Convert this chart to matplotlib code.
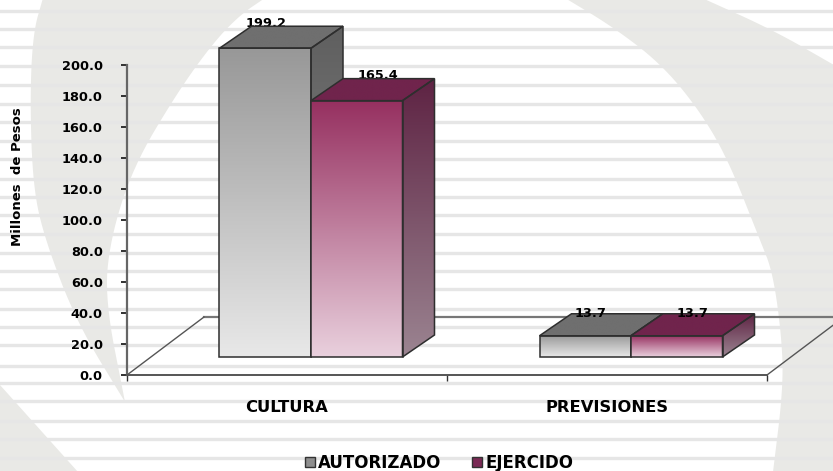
import numpy as np
import matplotlib
matplotlib.use("Agg")
import matplotlib.pyplot as plt
from matplotlib.colors import LinearSegmentedColormap
from matplotlib.patches import Polygon, Patch

W, H = 833, 471

categorias = ["CULTURA", "PREVISIONES"]
autorizado = [199.2, 13.7]
ejercido = [165.4, 13.7]
y_ticks = [0, 20, 40, 60, 80, 100, 120, 140, 160, 180, 200]
series_names = ["AUTORIZADO", "EJERCIDO"]

plt.rcParams["font.family"] = "DejaVu Sans"
plt.rcParams["font.weight"] = "bold"

fig = plt.figure(figsize=(W / 100, H / 100), dpi=100, facecolor="white")

# fondo: formas claras y franjas, en pixeles
bg = fig.add_axes([0, 0, 1, 1], zorder=0)
bg.set_xlim(0, W)
bg.set_ylim(H, 0)
bg.axis("off")


def suave(pts, n=3):
    pts = np.array(pts, dtype=float)
    for _ in range(n):
        q = pts[:-1] * 0.75 + pts[1:] * 0.25
        r = pts[:-1] * 0.25 + pts[1:] * 0.75
        mid = np.empty((len(q) * 2, 2))
        mid[0::2] = q
        mid[1::2] = r
        pts = np.vstack([pts[0], mid, pts[-1]])
    return pts


FORMA = "#e9e9e6"
izq = suave([(43, -2), (33, 33), (30, 100), (33, 187), (45, 240), (77, 323), (125, 402)])
der = suave([(125, 402), (105, 300), (110, 240), (133, 167), (177, 93), (213, 43), (240, 15), (265, -2)])
bg.add_patch(Polygon(np.vstack([izq, der]), fc=FORMA, ec="none"))
bg.add_patch(Polygon([(0, 385), (78, 472), (0, 472)], fc=FORMA, ec="none"))
borde1 = suave([(565, -2), (613, 27), (660, 63), (697, 107), (727, 157), (760, 240),
                (773, 273), (782, 340), (783, 390), (773, 472)])
borde2 = suave([(702, -2), (773, 30), (834, 65)])
bg.add_patch(Polygon(np.vstack([borde1, [(834, 472)], borde2[::-1]]), fc=FORMA, ec="none"))

franjas = [11, 29, 47, 66, 85, 103.7, 122, 141, 159, 179, 197, 215, 234, 253, 271, 289,
           309, 327, 345, 366, 383, 401, 421, 439, 458]
for y in franjas:
    bg.axhline(y, color="#e6e6e6", lw=2.4)

# ejes: 0 en y=375, 200 en y=65, categorias de x=127 a x=767
ax = fig.add_axes([127 / W, (H - 375) / H, 640 / W, 310 / H], zorder=1)
ax.patch.set_alpha(0)
ax.set_xlim(0, 2)
ax.set_ylim(0, 200)
px_x = 2 / 640
px_y = 200 / 310

for s in ["top", "right"]:
    ax.spines[s].set_visible(False)
ax.spines["left"].set_color("#666666")
ax.spines["left"].set_linewidth(1.6)
ax.spines["bottom"].set_color("#555555")
ax.spines["bottom"].set_linewidth(1.4)
ax.set_yticks(y_ticks)
ax.set_yticklabels([f"{v:.1f}" for v in y_ticks], fontsize=9.3, fontweight="bold")
ax.set_xticks([0, 1, 2])
ax.set_xticklabels([])
ax.set_xticks([0.5, 1.5], minor=True)
ax.set_xticklabels(categorias, minor=True, fontsize=11.8, fontweight="bold")
ax.tick_params(axis="y", length=4.5, width=1.3, pad=13, color="#222222")
ax.tick_params(axis="x", which="major", length=4.5, width=1, color="#333333")
ax.tick_params(axis="x", which="minor", length=0, pad=18)
fig.text(18 / W, (H - 177) / H, "Millones  de Pesos", rotation=90, ha="center", va="center",
         fontsize=9.5, fontweight="bold")

# piso
fx = 77 * px_x
fy = 58 * px_y
ax.plot([fx, 2 + fx], [fy, fy], color="#777777", lw=1.6, clip_on=False, zorder=1.5)
ax.plot([0, fx], [0, fy], color="#555555", lw=1, clip_on=False, zorder=1.5)
ax.plot([2, 2 + fx], [0, fy], color="#555555", lw=1, clip_on=False, zorder=1.5)

# barras 3D
bar_w = 91.5 * px_x
base = 18 * px_y
dx = 32 * px_x
dy = 22 * px_y
shift = 24 * px_x


def cara(pts, top, bottom, z):
    poly = Polygon(pts, closed=True, fc="none", ec="#2e2e2e", lw=1.1, clip_on=False, zorder=z + 0.1)
    ax.add_patch(poly)
    xs = [p[0] for p in pts]
    ys = [p[1] for p in pts]
    cmap = LinearSegmentedColormap.from_list("g", [top, bottom])
    im = ax.imshow(np.linspace(0, 1, 128).reshape(-1, 1), cmap=cmap, aspect="auto", origin="upper",
                   extent=(min(xs), max(xs), min(ys), max(ys)), zorder=z, interpolation="bilinear")
    im.set_clip_path(poly)
    im.set_clip_box(fig.bbox)


def barra(x0, v, colores, z):
    x1 = x0 + bar_w
    t = base + v
    cara([(x0, t), (x0 + dx, t + dy), (x1 + dx, t + dy), (x1, t)], colores[0], colores[0], z)
    cara([(x1, base), (x1 + dx, base + dy), (x1 + dx, t + dy), (x1, t)], colores[1], colores[2], z)
    cara([(x0, base), (x1, base), (x1, t), (x0, t)], colores[3], colores[4], z)


GRIS = ["#6f6f6f", "#5f5f5f", "#8f8f8f", "#989898", "#e8e8e8"]
VINO = ["#70244c", "#5e2343", "#9b8491", "#963060", "#e9d0dd"]

for i in range(len(categorias)):
    centro = i + 0.5 + shift
    barra(centro - bar_w, autorizado[i], GRIS, 3 + i * 2)
    barra(centro, ejercido[i], VINO, 4 + i * 2)

# etiquetas de valor
etiquetas_x = [[1, 21], [5, 16]]
etiquetas_z = [2, 9]
for i in range(len(categorias)):
    centro = i + 0.5 + shift
    for j, v in enumerate([autorizado[i], ejercido[i]]):
        x = centro + (j - 0.5) * bar_w + etiquetas_x[i][j] * px_x
        y = base + v + dy + (3 if i == 0 else 0) * px_y
        ax.text(x, y, f"{v:.1f}", ha="center", va="center", fontsize=9.3, fontweight="bold",
                color="black", zorder=etiquetas_z[i], clip_on=False)

ax.set_xlim(0, 2)
ax.set_ylim(0, 200)

# leyenda
handles = [Patch(fc="#8f8f8f", ec="#333333", lw=1), Patch(fc="#7a2a55", ec="#333333", lw=1)]
fig.legend(handles, series_names, ncol=2, frameon=False, loc="center",
           bbox_to_anchor=(439 / W, (H - 463) / H),
           handlelength=0.6, handleheight=0.6, handletextpad=0.2, columnspacing=1.8,
           prop={"weight": "bold", "size": 12})

fig.savefig("out.png", dpi=100)
